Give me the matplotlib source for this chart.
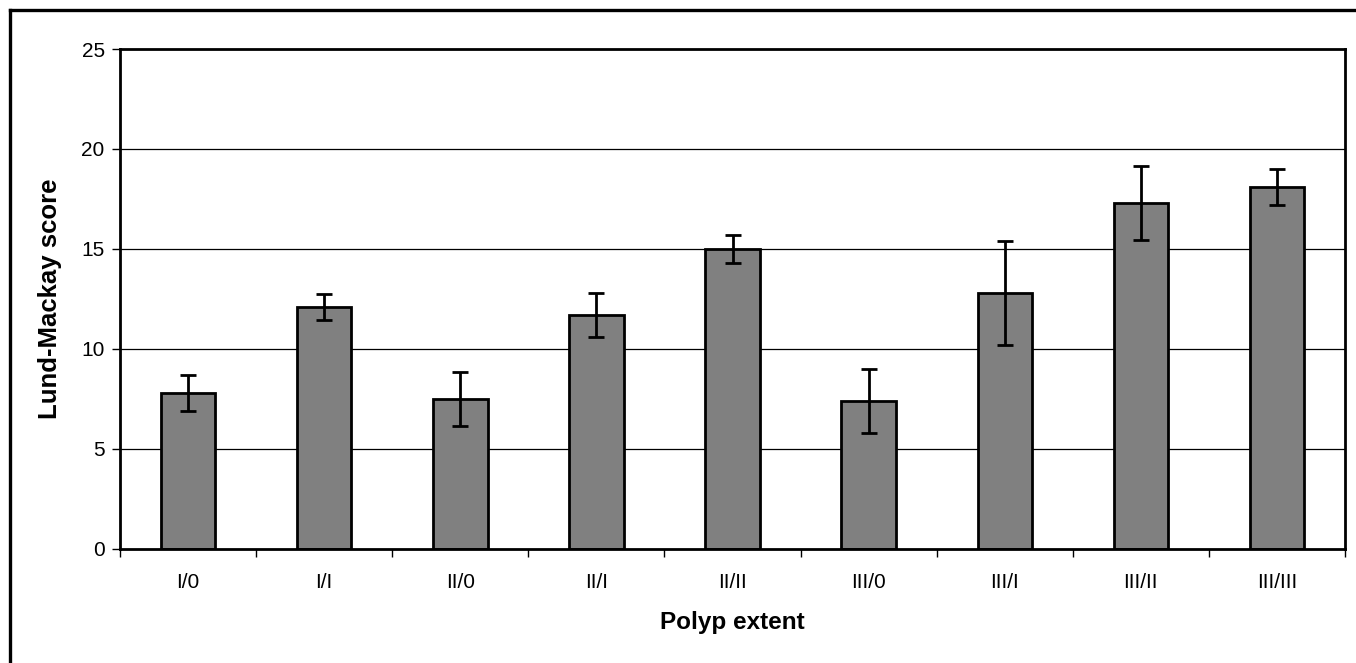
import numpy as np
import matplotlib.pyplot as plt
from matplotlib.lines import Line2D

# polyp extent groups and Lund-Mackay score (mean +/- error)
groups = ["I/0", "I/I", "II/0", "II/I", "II/II", "III/0", "III/I", "III/II", "III/III"]
scores = [7.8, 12.1, 7.5, 11.7, 15.0, 7.4, 12.8, 17.3, 18.1]
errors = [0.9, 0.65, 1.35, 1.1, 0.7, 1.6, 2.6, 1.85, 0.9]
yticks = [0, 5, 10, 15, 20, 25]

plt.rcParams["font.family"] = ["Liberation Sans", "DejaVu Sans"]

W, H = 1356, 663
fig = plt.figure(figsize=(W / 100, H / 100), dpi=100)
ax = fig.add_axes([120 / W, 1 - 549 / H, 1225 / W, 500 / H])

x = np.arange(len(groups))
ax.bar(x, scores, width=0.4, color="#808080", edgecolor="black", linewidth=2.0, zorder=2)
ax.errorbar(x, scores, yerr=errors, fmt="none", ecolor="black", elinewidth=2.0,
            capsize=5.5, capthick=2.0, zorder=3)

ax.set_xlim(-0.5, len(groups) - 0.5)
ax.set_ylim(0, 25)
ax.set_yticks(yticks)
ax.set_yticklabels([str(t) for t in yticks], fontsize=15)
ax.tick_params(axis="y", direction="out", length=6, width=1, pad=5)

ax.set_xticks(x)
ax.set_xticklabels(groups, fontsize=15)
ax.tick_params(axis="x", which="major", length=0, pad=17)
ax.set_xticks(np.arange(len(groups) + 1) - 0.5, minor=True)
ax.tick_params(axis="x", which="minor", direction="out", length=6, width=1)

for t in yticks[1:-1]:
    ax.axhline(t, color="black", linewidth=0.9, zorder=1)

for s in ax.spines.values():
    s.set_linewidth(2.0)
    s.set_color("black")

fig.text(50 / W, 1 - 299 / H, "Lund-Mackay score", rotation=90, ha="center", va="center",
         fontsize=18.5, fontweight="bold")
fig.text((120 + 1225 / 2) / W, 1 - 622 / H, "Polyp extent", ha="center", va="center",
         fontsize=17.5, fontweight="bold")

# outer frame (only the left and top edges are visible)
fig.add_artist(Line2D([9.5 / W, 9.5 / W], [0, 1 - 10 / H], color="black", linewidth=2.4,
                      transform=fig.transFigure, solid_capstyle="projecting"))
fig.add_artist(Line2D([9.5 / W, 1], [1 - 10 / H, 1 - 10 / H], color="black", linewidth=2.4,
                      transform=fig.transFigure, solid_capstyle="projecting"))

fig.savefig("out.png", dpi=100)
